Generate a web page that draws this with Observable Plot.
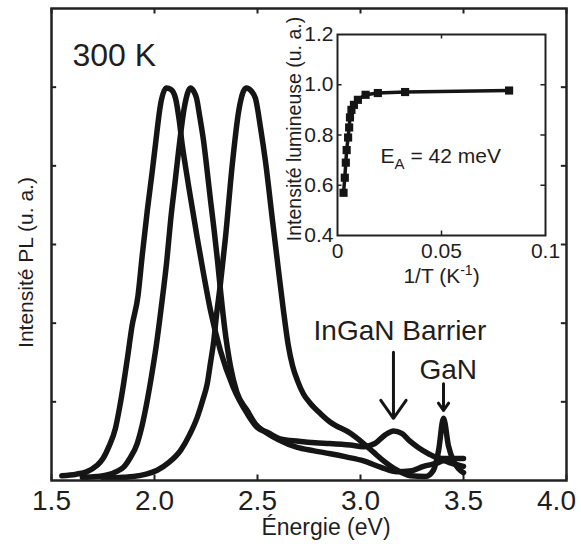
<!DOCTYPE html>
<html><head><meta charset="utf-8">
<script src="https://cdn.jsdelivr.net/npm/d3@7"></script>
<script src="https://cdn.jsdelivr.net/npm/@observablehq/plot@0.6"></script>
<style>
html,body{margin:0;padding:0;background:#fff;}
#chart{position:relative;width:581px;height:544px;overflow:hidden;background:#fff;}
#chart svg{position:absolute;overflow:visible;}
</style></head><body><div id="chart"></div>
<script>
// ---------- main PL spectra (300 K) ----------
const energyA = [1.55,1.62,1.67,1.72,1.75,1.78,1.81,1.83,1.85,1.87,1.89,1.92,1.94,1.965,1.99,2.005,2.03,2.058,2.08,2.102,2.12,2.134,2.15,2.167,2.19,2.207,2.238,2.272,2.32,2.383,2.45,2.50,2.55,2.61,2.70,2.78,2.85,2.95,3.015,3.07,3.12,3.16,3.20,3.24,3.28,3.33,3.37,3.40,3.45,3.50];
const intensityA = [0.06,0.08,0.11,0.19,0.28,0.44,0.66,0.92,1.23,1.58,1.95,2.35,2.85,3.43,3.95,4.28,4.79,4.99,4.97,4.86,4.58,4.28,4.00,3.72,3.36,3.09,2.63,2.16,1.65,1.18,0.85,0.67,0.61,0.53,0.50,0.48,0.47,0.45,0.43,0.47,0.58,0.63,0.60,0.50,0.42,0.34,0.29,0.28,0.28,0.28];

const energyB = [1.65,1.72,1.77,1.82,1.85,1.88,1.916,1.94,1.965,1.985,2.005,2.037,2.06,2.078,2.10,2.117,2.146,2.175,2.19,2.204,2.22,2.238,2.255,2.272,2.29,2.306,2.323,2.34,2.369,2.40,2.45,2.49,2.529,2.60,2.693,2.77,2.854,2.93,3.015,3.097,3.178,3.24,3.306,3.37,3.403,3.44,3.50];
const intensityB = [0.04,0.05,0.07,0.12,0.17,0.28,0.47,0.70,1.02,1.32,1.65,2.29,2.80,3.30,3.80,4.19,4.76,4.99,4.95,4.86,4.62,4.32,3.95,3.56,3.17,2.79,2.35,1.95,1.45,1.12,0.89,0.72,0.63,0.52,0.42,0.38,0.34,0.30,0.25,0.17,0.11,0.12,0.18,0.22,0.25,0.22,0.18];

const energyC = [1.75,1.85,1.898,1.96,2.013,2.07,2.126,2.17,2.207,2.235,2.256,2.272,2.288,2.30,2.320,2.345,2.377,2.409,2.445,2.47,2.49,2.515,2.539,2.573,2.602,2.626,2.65,2.67,2.694,2.723,2.757,2.806,2.854,2.951,3.015,3.063,3.112,3.178,3.243,3.316,3.354,3.379,3.403,3.427,3.451,3.476,3.50];
const intensityC = [0.03,0.04,0.05,0.08,0.13,0.23,0.38,0.58,0.80,1.03,1.23,1.50,1.78,2.08,2.50,3.10,4.00,4.70,4.99,4.95,4.86,4.48,4.05,3.30,2.67,2.16,1.71,1.46,1.27,1.10,0.98,0.85,0.74,0.60,0.47,0.36,0.25,0.13,0.06,0.05,0.13,0.38,0.79,0.44,0.25,0.15,0.10];

const xTicks = [1.5, 2.0, 2.5, 3.0, 3.5, 4.0];
const yTicks = [1, 2, 3, 4, 5];

// annotations (data units: eV, intensity)
const arrowE = [3.16, 3.403];
const arrowFrom = [1.63, 1.23];
const arrowTo = [0.79, 0.89];
const noteLabels = ["300 K", "InGaN Barrier", "GaN"];
const noteE = [1.602, 2.772, 3.286];
const noteV = [5.27, 1.79, 1.295];
const noteSize = [32, 28, 28];

// ---------- inset: integrated intensity vs 1/T ----------
const invT = [0.0029,0.0035,0.004,0.0044,0.0051,0.0056,0.006,0.0067,0.0079,0.0098,0.0135,0.0194,0.0325,0.0825];
const relInt = [0.57,0.63,0.69,0.74,0.79,0.83,0.87,0.90,0.92,0.94,0.96,0.967,0.971,0.977];
const insetXTicks = [0, 0.05, 0.1];
const insetYTicks = [0.4, 0.6, 0.8, 1.0, 1.2];

const INK = "#151515";
const FONT = "'Liberation Sans', Arial, Helvetica, sans-serif";

const toRows = (E, V, name) => E.map((e, i) => ({E: e, v: V[i], s: name}));
const spectra = [
  ...toRows(energyA, intensityA, "A"),
  ...toRows(energyB, intensityB, "B"),
  ...toRows(energyC, intensityC, "C")
];
const arrows = arrowE.map((e, i) => ({E: e, from: arrowFrom[i], to: arrowTo[i]}));
const notes = noteLabels.map((t, i) => ({t, E: noteE[i], v: noteV[i], size: noteSize[i]}));
const insetRows = invT.map((x, i) => ({x, y: relInt[i]}));

const main = Plot.plot({
  width: 581, height: 544,
  marginLeft: 51, marginRight: 15, marginTop: 8, marginBottom: 64,
  x: {domain: [1.5, 4.0]},
  y: {domain: [0, 6], axis: null},
  style: {fontFamily: FONT, background: "transparent", color: "#1e1e1e", overflow: "visible"},
  marks: [
    Plot.axisX(xTicks, {tickSize: 0, tickPadding: 10, fontSize: 28, tickFormat: d => d.toFixed(1), label: null}),
    Plot.ruleX(xTicks, {y1: 0, y2: 0.07, stroke: "#222", strokeWidth: 2}),
    Plot.ruleX(xTicks, {y1: 6, y2: 5.93, stroke: "#222", strokeWidth: 2}),
    Plot.ruleY(yTicks, {x1: 1.5, x2: 1.525, stroke: "#222", strokeWidth: 2}),
    Plot.ruleY(yTicks, {x1: 4.0, x2: 3.975, stroke: "#222", strokeWidth: 2}),
    Plot.line(spectra, {x: "E", y: "v", z: "s", curve: "monotone-x", stroke: INK, strokeWidth: 5.5, strokeLinejoin: "round", strokeLinecap: "round"}),
    Plot.frame({stroke: "#222", strokeWidth: 2.5}),
    Plot.arrow(arrows, {x1: "E", x2: "E", y1: "from", y2: "to", stroke: INK, strokeWidth: 3, headLength: 12, headAngle: 70}),
    Plot.text(notes, {x: "E", y: "v", text: "t", fontSize: d => d.size, textAnchor: "start", lineAnchor: "bottom", fill: "#1e1e1e"}),
    Plot.text(["Énergie (eV)"], {frameAnchor: "bottom", textAnchor: "middle", dx: 17, dy: 54, lineAnchor: "bottom", fontSize: 23, fill: "#1e1e1e"}),
    Plot.text(["Intensité PL (u. a.)"], {frameAnchor: "left", textAnchor: "middle", dx: -19, dy: 18, rotate: -90, lineAnchor: "bottom", fontSize: 21, fill: "#1e1e1e"})
  ]
});
main.style.left = "0px"; main.style.top = "0px";

const inset = Plot.plot({
  width: 300, height: 280,
  marginLeft: 77, marginRight: 15, marginTop: 19, marginBottom: 60,
  x: {domain: [0, 0.1]},
  y: {domain: [0.4, 1.2]},
  style: {fontFamily: FONT, background: "transparent", color: "#1e1e1e", overflow: "visible"},
  marks: [
    Plot.axisX(insetXTicks, {tickSize: 0, tickPadding: 8, fontSize: 21, tickFormat: d => String(d), label: null}),
    Plot.axisY(insetYTicks, {tickSize: 0, tickPadding: 4, fontSize: 21, tickFormat: d => d.toFixed(1), label: null}),
    Plot.ruleY([0.6, 0.8, 1.0], {x1: 0, x2: 0.0022, stroke: "#222", strokeWidth: 1.5}),
    Plot.ruleY([0.6, 0.8, 1.0], {x1: 0.1, x2: 0.0978, stroke: "#222", strokeWidth: 1.5}),
    Plot.ruleX([0.05], {y1: 0.4, y2: 0.418, stroke: "#222", strokeWidth: 1.5}),
    Plot.ruleX([0.05], {y1: 1.2, y2: 1.182, stroke: "#222", strokeWidth: 1.5}),
    Plot.line(insetRows, {x: "x", y: "y", stroke: INK, strokeWidth: 3.5}),
    Plot.dot(insetRows, {x: "x", y: "y", symbol: "square", r: 4.6, fill: INK, stroke: null}),
    Plot.frame({stroke: "#222", strokeWidth: 2}),
    Plot.text(["EA = 42 meV"], {x: 0.0207, y: 0.687, textAnchor: "start", lineAnchor: "bottom", fontSize: 21, fill: "#1e1e1e"}),
    Plot.text(["1/T (K-1)"], {frameAnchor: "bottom", textAnchor: "middle", dy: 47, lineAnchor: "bottom", fontSize: 21, fill: "#1e1e1e"}),
    Plot.text(["Intensité lumineuse (u. a.)"], {frameAnchor: "left", textAnchor: "middle", dx: -37, dy: -6, rotate: -90, lineAnchor: "bottom", fontSize: 19.5, fill: "#1e1e1e"})
  ]
});
inset.style.left = "260px"; inset.style.top = "15px";

// sub/superscripts as real text spans
function richText(svg, content, parts) {
  svg.querySelectorAll("text").forEach(t => {
    if (t.textContent === content) {
      t.textContent = "";
      parts.forEach(([str, dy, size]) => {
        const ts = document.createElementNS("http://www.w3.org/2000/svg", "tspan");
        ts.textContent = str;
        if (dy) ts.setAttribute("dy", dy);
        if (size) ts.setAttribute("font-size", size);
        t.appendChild(ts);
      });
    }
  });
}
richText(inset, "EA = 42 meV", [["E", 0, 0], ["A", 6, 15], [" = 42 meV", -6, 0]]);
richText(inset, "1/T (K-1)", [["1/T (K", 0, 0], ["-1", -8, 14], [")", 8, 0]]);

// last main tick label sits slightly inside the frame edge in the reference
main.querySelectorAll("text").forEach(t => {
  if (t.textContent === "4.0") {
    t.setAttribute("transform", (t.getAttribute("transform") || "") + " translate(-10,0)");
  }
});

const chart = document.getElementById("chart");
chart.appendChild(main);
chart.appendChild(inset);
</script></body></html>
